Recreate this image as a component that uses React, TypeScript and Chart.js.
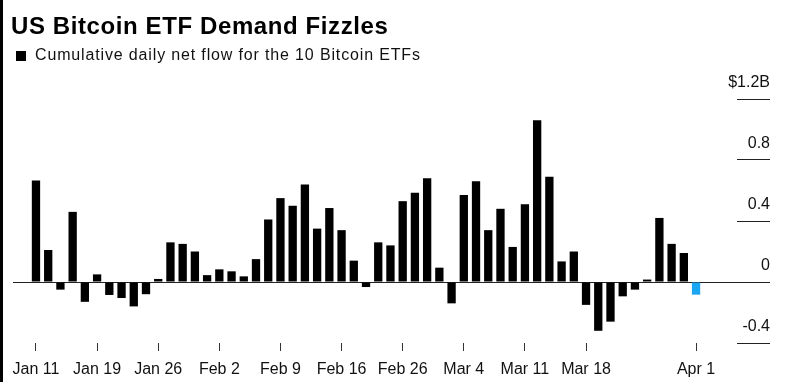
import React, { useEffect, useRef } from 'react';
import { Chart, registerables } from 'chart.js';

Chart.register(...registerables);

// Trading days shown on the chart
const dates: string[] = [
  'Jan 11', 'Jan 12', 'Jan 16', 'Jan 17', 'Jan 18', 'Jan 19', 'Jan 22', 'Jan 23', 'Jan 24', 'Jan 25',
  'Jan 26', 'Jan 29', 'Jan 30', 'Jan 31', 'Feb 1', 'Feb 2', 'Feb 5', 'Feb 6', 'Feb 7', 'Feb 8',
  'Feb 9', 'Feb 12', 'Feb 13', 'Feb 14', 'Feb 15', 'Feb 16', 'Feb 20', 'Feb 21', 'Feb 22', 'Feb 23',
  'Feb 26', 'Feb 27', 'Feb 28', 'Feb 29', 'Mar 1', 'Mar 4', 'Mar 5', 'Mar 6', 'Mar 7', 'Mar 8',
  'Mar 11', 'Mar 12', 'Mar 13', 'Mar 14', 'Mar 15', 'Mar 18', 'Mar 19', 'Mar 20', 'Mar 21', 'Mar 22',
  'Mar 25', 'Mar 26', 'Mar 27', 'Mar 28', 'Apr 1',
];

// Cumulative daily net flow, $ billions
const netFlow: number[] = [
  0.665, 0.21, -0.05, 0.46, -0.13, 0.05, -0.085, -0.105, -0.16, -0.08,
  0.02, 0.26, 0.25, 0.2, 0.045, 0.083, 0.07, 0.037, 0.15, 0.41,
  0.55, 0.5, 0.64, 0.35, 0.485, 0.34, 0.14, -0.033, 0.26, 0.24,
  0.53, 0.585, 0.68, 0.094, -0.14, 0.57, 0.66, 0.34, 0.48, 0.23,
  0.51, 1.06, 0.69, 0.135, 0.2, -0.15, -0.32, -0.26, -0.094, -0.05,
  0.016, 0.42, 0.25, 0.19, -0.083,
];

const highlightDate = 'Apr 1';
const xTickLabels: string[] = ['Jan 11', 'Jan 19', 'Jan 26', 'Feb 2', 'Feb 9', 'Feb 16', 'Feb 26', 'Mar 4', 'Mar 11', 'Mar 18', 'Apr 1'];
const yTickValues: number[] = [-0.4, 0, 0.4, 0.8, 1.2];
const yTickLabels: string[] = ['-0.4', '0', '0.4', '0.8', '$1.2B'];

const title = 'US Bitcoin ETF Demand Fizzles';
const subtitle = 'Cumulative daily net flow for the 10 Bitcoin ETFs';

const BAR_COLOR = '#000000';
const HIGHLIGHT_COLOR = '#1ba6f2';
const FONT = '"Liberation Sans", Arial, Helvetica, sans-serif';

export default function App() {
  const canvasRef = useRef<HTMLCanvasElement | null>(null);

  useEffect(() => {
    const canvas = canvasRef.current;
    if (!canvas) return;
    Chart.defaults.font.family = FONT;

    const chart = new Chart(canvas, {
      type: 'bar',
      data: {
        datasets: [
          {
            data: dates.map((d, i) => ({ x: i, y: netFlow[i] })),
            backgroundColor: dates.map((d) => (d === highlightDate ? HIGHLIGHT_COLOR : BAR_COLOR)),
            borderWidth: 0,
            barPercentage: 0.85,
            categoryPercentage: 0.8,
          },
        ],
      },
      options: {
        responsive: false,
        animation: false,
        events: [],
        layout: { padding: { left: 13, top: 99, right: 19, bottom: 0 } },
        plugins: { legend: { display: false }, tooltip: { enabled: false }, title: { display: false } },
        scales: {
          x: {
            type: 'linear',
            position: 'bottom',
            min: -1.88,
            max: 57.35,
            offset: false,
            afterBuildTicks: (axis: any) => {
              axis.ticks = xTickLabels.map((l) => ({ value: dates.indexOf(l) }));
            },
            afterFit: (axis: any) => {
              axis.height = 39;
            },
            grid: {
              display: true,
              offset: false,
              drawOnChartArea: false,
              drawTicks: true,
              tickLength: 8,
              tickColor: '#333',
              tickWidth: 1,
            },
            border: { display: false },
            ticks: {
              autoSkip: false,
              maxRotation: 0,
              padding: 9,
              color: '#111',
              font: { size: 16 },
              callback: (v: any) => dates[Math.round(Number(v))] ?? '',
            },
          },
          y: {
            position: 'right',
            min: -0.4,
            max: 1.2,
            afterBuildTicks: (axis: any) => {
              axis.ticks = yTickValues.map((v) => ({ value: v }));
            },
            afterFit: (axis: any) => {
              axis.width = 33;
              axis.paddingTop = 0;
              axis.paddingBottom = 0;
            },
            grid: {
              color: (c: any) => (c.tick && c.tick.value === 0 ? '#222' : 'rgba(0,0,0,0)'),
              tickColor: '#222',
              tickLength: 33,
              drawTicks: true,
              lineWidth: 1,
            },
            border: { display: false },
            ticks: {
              mirror: true,
              padding: 33,
              labelOffset: -16,
              color: '#111',
              font: { size: 16 },
              callback: (v: any) => {
                const idx = yTickValues.indexOf(Number(v));
                return idx >= 0 ? yTickLabels[idx] : '';
              },
            },
          },
        },
      } as any,
    });
    return () => chart.destroy();
  }, []);

  return (
    <div
      style={{
        position: 'absolute',
        left: 0,
        top: 0,
        width: 789,
        height: 382,
        background: '#fff',
        overflow: 'hidden',
        fontFamily: FONT,
        color: '#000',
      }}
    >
      <canvas ref={canvasRef} width={789} height={382} style={{ position: 'absolute', left: 0, top: 0 }} />
      <div style={{ position: 'absolute', left: 0, top: 0, width: 3, height: 382, background: '#000' }} />
      <div
        style={{
          position: 'absolute',
          left: 11,
          top: 14,
          fontSize: 24,
          lineHeight: '24px',
          fontWeight: 700,
          letterSpacing: 0.6,
          whiteSpace: 'nowrap',
        }}
      >
        {title}
      </div>
      <div style={{ position: 'absolute', left: 16, top: 51, width: 10, height: 10, background: '#000' }} />
      <div
        style={{
          position: 'absolute',
          left: 35,
          top: 47,
          fontSize: 16,
          lineHeight: '16px',
          letterSpacing: 0.85,
          whiteSpace: 'nowrap',
          color: '#111',
        }}
      >
        {subtitle}
      </div>
    </div>
  );
}
